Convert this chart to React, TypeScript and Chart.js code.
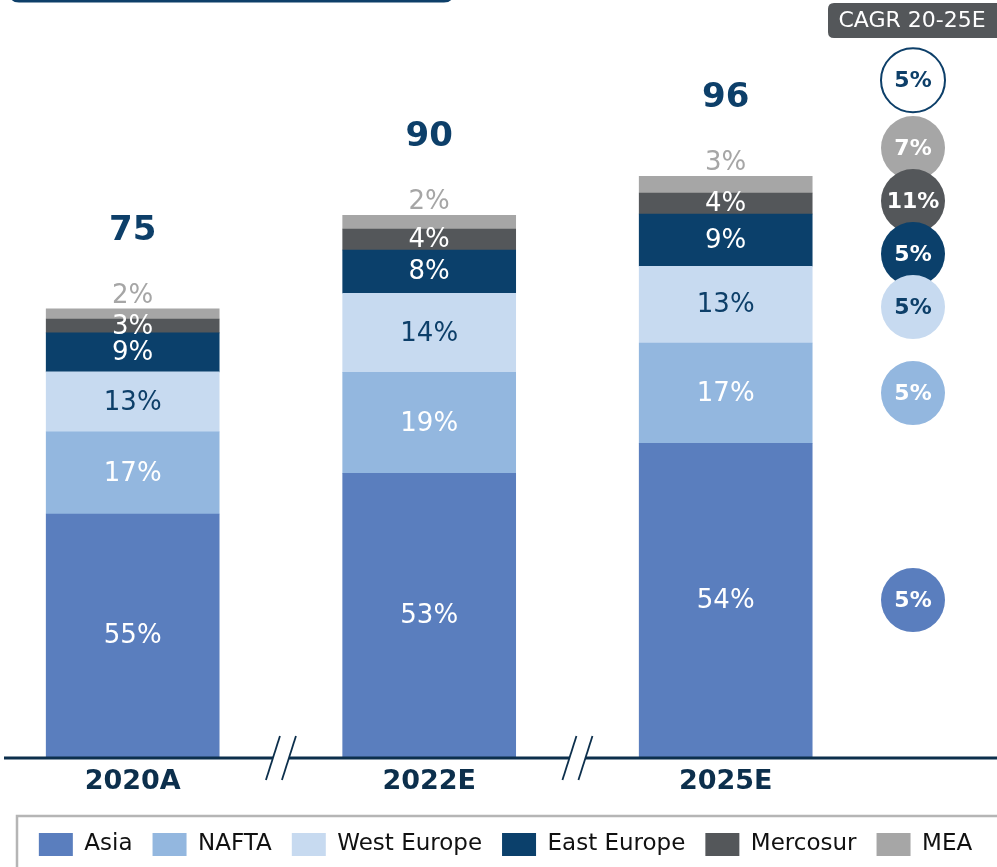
import React, { useEffect, useRef } from 'react';
import { Chart, registerables } from 'chart.js';

Chart.register(...registerables);

// ---------- data ----------
const categories = ['2020A', '2022E', '2025E'];
const seriesNames = ['Asia', 'NAFTA', 'West Europe', 'East Europe', 'Mercosur', 'MEA'];

const asia = [40.5, 47.3, 52.3];
const nafta = [13.7, 16.8, 16.7];
const westEurope = [10.0, 13.2, 12.8];
const eastEurope = [6.5, 7.2, 8.7];
const mercosur = [2.3, 3.5, 3.5];
const mea = [1.7, 2.3, 2.8];

const asiaPct = ['55%', '53%', '54%'];
const naftaPct = ['17%', '19%', '17%'];
const westEuropePct = ['13%', '14%', '13%'];
const eastEuropePct = ['9%', '8%', '9%'];
const mercosurPct = ['3%', '4%', '4%'];
const meaPct = ['2%', '2%', '3%'];

const totals = ['75', '90', '96'];

const cagrTitle = 'CAGR 20-25E';
const cagrTotal = '5%';
const cagrBySeries = ['5%', '5%', '5%', '5%', '11%', '7%'];

// ---------- styles ----------
const seriesValues = [asia, nafta, westEurope, eastEurope, mercosur, mea];
const seriesPct = [asiaPct, naftaPct, westEuropePct, eastEuropePct, mercosurPct, meaPct];
const seriesColors = ['#5A7EBE', '#93B7DF', '#C7DAF0', '#0B406B', '#54575A', '#A6A6A6'];
const NAVY = '#0D3F69';
const DARK = '#0C2F4C';
const pctTextColors = ['#FFFFFF', '#FFFFFF', NAVY, '#FFFFFF', '#FFFFFF', '#A6A6A6'];
const circleTextColors = ['#FFFFFF', '#FFFFFF', NAVY, '#FFFFFF', '#FFFFFF', '#FFFFFF'];
const FONT = "'DejaVu Sans', 'Noto Sans', sans-serif";

function roundRect(ctx: CanvasRenderingContext2D, x: number, y: number, w: number, h: number, r: number) {
  ctx.beginPath();
  ctx.moveTo(x + r, y);
  ctx.lineTo(x + w - r, y);
  ctx.quadraticCurveTo(x + w, y, x + w, y + r);
  ctx.lineTo(x + w, y + h - r);
  ctx.quadraticCurveTo(x + w, y + h, x + w - r, y + h);
  ctx.lineTo(x + r, y + h);
  ctx.quadraticCurveTo(x, y + h, x, y + h - r);
  ctx.lineTo(x, y + r);
  ctx.quadraticCurveTo(x, y, x + r, y);
  ctx.closePath();
}

// vertical position of a segment's percentage label
function labelY(el: any, i: number, last: number) {
  return i === last ? el.y - 14 : (el.y + el.base) / 2;
}

const overlay = {
  id: 'overlay',
  afterDatasetsDraw(chart: any) {
    const ctx: CanvasRenderingContext2D = chart.ctx;
    const area = chart.chartArea;
    const xScale = chart.scales.x;
    ctx.save();

    // top-left frame remnant
    ctx.strokeStyle = NAVY;
    ctx.lineWidth = 3;
    roundRect(ctx, 11, -40, 441, 41, 8);
    ctx.stroke();

    // axis line
    const axisY = area.bottom + 1;
    ctx.strokeStyle = DARK;
    ctx.lineWidth = 3;
    ctx.beginPath();
    ctx.moveTo(4, axisY);
    ctx.lineTo(chart.width, axisY);
    ctx.stroke();

    // axis break marks
    for (let k = 0; k < categories.length - 1; k++) {
      const px = xScale.getPixelForValue(k + 0.5);
      ctx.fillStyle = '#FFFFFF';
      ctx.beginPath();
      ctx.moveTo(px - 8 + 7, axisY - 22);
      ctx.lineTo(px + 8 + 7, axisY - 22);
      ctx.lineTo(px + 8 - 7, axisY + 22);
      ctx.lineTo(px - 8 - 7, axisY + 22);
      ctx.closePath();
      ctx.fill();
      ctx.strokeStyle = DARK;
      ctx.lineWidth = 1.8;
      for (const off of [-8, 8]) {
        ctx.beginPath();
        ctx.moveTo(px + off + 7, axisY - 22);
        ctx.lineTo(px + off - 7, axisY + 22);
        ctx.stroke();
      }
    }

    // segment percentage labels
    ctx.textAlign = 'center';
    ctx.textBaseline = 'middle';
    ctx.font = `26px ${FONT}`;
    const last = seriesValues.length - 1;
    seriesPct.forEach((labels, i) => {
      const meta = chart.getDatasetMeta(i);
      labels.forEach((txt, j) => {
        const el = meta.data[j];
        if (!el) return;
        ctx.fillStyle = pctTextColors[i];
        ctx.fillText(txt, el.x, labelY(el, i, last) + 1);
      });
    });

    // totals
    const topMeta = chart.getDatasetMeta(last);
    ctx.font = `bold 34px ${FONT}`;
    ctx.fillStyle = NAVY;
    totals.forEach((t, j) => {
      const el = topMeta.data[j];
      ctx.fillText(t, el.x, el.y - 78);
    });

    // CAGR column
    const cx = area.right - 84;
    ctx.fillStyle = '#54575A';
    roundRect(ctx, cx - 85, 3, 200, 35, 6);
    ctx.fill();
    ctx.fillStyle = '#FFFFFF';
    ctx.font = `22px ${FONT}`;
    ctx.fillText(cagrTitle, cx - 1, 21);

    const lastIdx = categories.length - 1;
    const gap = 53;
    // desired positions = label positions of last bar, ordered top to bottom
    const order = seriesValues.map((_, i) => last - i); // MEA ... Asia
    const desired = order.map((i) => labelY(chart.getDatasetMeta(i).data[lastIdx], i, last));
    let clusters = desired.map((d, k) => ({ items: [k], center: d }));
    let changed = true;
    const posOf = (c: any, n: number) => c.center + (n - (c.items.length - 1) / 2) * gap;
    while (changed) {
      changed = false;
      for (let c = 0; c < clusters.length - 1; c++) {
        const a = clusters[c];
        const b = clusters[c + 1];
        if (posOf(a, a.items.length - 1) + gap > posOf(b, 0)) {
          const items = a.items.concat(b.items);
          const center = items.reduce((s, k) => s + desired[k], 0) / items.length;
          clusters.splice(c, 2, { items, center });
          changed = true;
          break;
        }
      }
    }
    const positions: number[] = [];
    clusters.forEach((c) => c.items.forEach((k, n) => { positions[k] = posOf(c, n); }));

    const r = 32;
    // total circle
    const totalEl = topMeta.data[lastIdx];
    const ty = totalEl.y - 96;
    ctx.beginPath();
    ctx.arc(cx, ty, r, 0, Math.PI * 2);
    ctx.fillStyle = '#FFFFFF';
    ctx.fill();
    ctx.strokeStyle = NAVY;
    ctx.lineWidth = 2;
    ctx.stroke();
    ctx.font = `bold 22px ${FONT}`;
    ctx.fillStyle = NAVY;
    ctx.fillText(cagrTotal, cx, ty + 1);

    order.forEach((i, k) => {
      const y = positions[k];
      ctx.beginPath();
      ctx.arc(cx, y, r, 0, Math.PI * 2);
      ctx.fillStyle = seriesColors[i];
      ctx.fill();
      ctx.fillStyle = circleTextColors[i];
      ctx.fillText(cagrBySeries[i], cx, y + 1);
    });

    ctx.restore();
  },
  afterDraw(chart: any) {
    const ctx: CanvasRenderingContext2D = chart.ctx;
    ctx.save();
    ctx.strokeStyle = '#B5B5B5';
    ctx.lineWidth = 2.5;
    ctx.strokeRect(17, 816, 1100, 200);
    ctx.restore();
  },
};

export default function App() {
  const ref = useRef<HTMLCanvasElement>(null);
  useEffect(() => {
    const canvas = ref.current;
    if (!canvas) return;
    Chart.defaults.font.family = FONT;
    const chart = new Chart(canvas, {
      type: 'bar',
      data: {
        datasets: seriesValues.map((vals, i) => ({
          label: seriesNames[i],
          data: vals.map((v, j) => ({ x: j, y: v })),
          backgroundColor: seriesColors[i],
          borderWidth: 0,
          barThickness: 173,
        })),
      },
      options: {
        responsive: false,
        animation: false,
        layout: { padding: { left: 14, right: 0, top: 0, bottom: 1 } },
        scales: {
          x: {
            type: 'linear',
            stacked: true,
            offset: false,
            min: -0.4003,
            max: 2.915,
            grid: { display: false, drawTicks: false },
            border: { display: false },
            afterBuildTicks: (s: any) => {
              s.ticks = categories.map((_, i) => ({ value: i }));
            },
            afterFit: (s: any) => {
              s.height = 56;
            },
            ticks: {
              autoSkip: false,
              maxRotation: 0,
              padding: 9,
              color: DARK,
              font: { size: 27, weight: 'bold', family: FONT },
              callback: (v: any) => categories[v] ?? '',
            },
          },
          y: { stacked: true, display: false, min: 0, max: 126.17 },
        },
        plugins: {
          legend: {
            position: 'bottom',
            labels: {
              boxWidth: 34,
              boxHeight: 23,
              padding: 20,
              color: '#111111',
              font: { size: 23, family: FONT },
            },
          },
          tooltip: { enabled: false },
        },
      } as any,
      plugins: [overlay],
    });
    return () => chart.destroy();
  }, []);

  return (
    <div style={{ position: 'absolute', left: 0, top: 0, width: 997, height: 867, background: '#FFFFFF' }}>
      <canvas ref={ref} width={997} height={867} style={{ display: 'block' }} />
    </div>
  );
}
